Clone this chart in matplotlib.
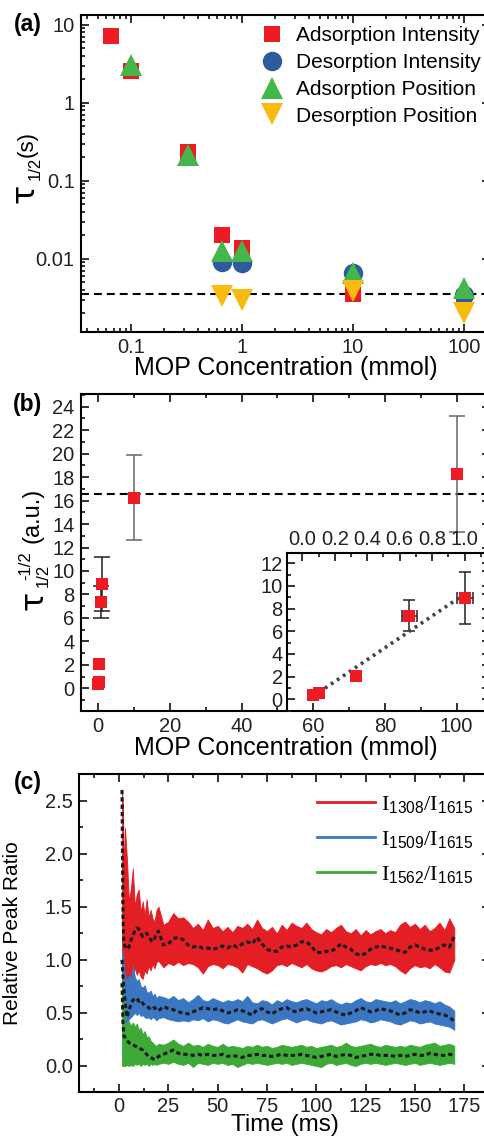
import numpy as np
import matplotlib
matplotlib.use('Agg')
import matplotlib.pyplot as plt
from matplotlib.lines import Line2D
from matplotlib.ticker import MultipleLocator, LogLocator, NullFormatter

plt.rcParams['font.family'] = ['Liberation Sans', 'DejaVu Sans']
plt.rcParams['mathtext.fontset'] = 'custom'
plt.rcParams['mathtext.rm'] = 'Liberation Serif'
plt.rcParams['mathtext.sf'] = 'Liberation Sans'
plt.rcParams['mathtext.it'] = 'Liberation Serif:italic'

RED = '#ED1C24'
BLUE = '#2D5B9E'
GREEN = '#45B649'
YELLOW = '#F9BA12'

############## (a) half-life vs concentration ##############
conc_ads_int = [0.066, 0.1, 0.33, 0.66, 1, 10, 100]
tau_ads_int = [7.2, 2.6, 0.235, 0.020, 0.0139, 0.00358, 0.0031]
conc_des_int = [0.66, 1, 10, 100]
tau_des_int = [0.0092, 0.0087, 0.0065, 0.0034]
conc_ads_pos = [0.1, 0.33, 0.66, 1, 10, 100]
tau_ads_pos = [3.06, 0.213, 0.0126, 0.0126, 0.0066, 0.0042]
conc_des_pos = [0.66, 1, 10, 100]
tau_des_pos = [0.0033, 0.0030, 0.0039, 0.0020]
tau_limit = 0.0035

############## (b) inverse square root ##############
conc_b = [0.066, 0.1, 0.33, 0.66, 1, 10, 100]
rate_b = [0.38, 0.58, 2.06, 7.37, 8.92, 16.24, 18.27]
rate_err = [0, 0, 0, 1.38, 2.29, 3.6, 4.93]
conc_err = [0, 0, 0, 0.045, 0.05, 0, 0]
rate_limit = 16.6
fit_slope = 9.66
fit_intercept = -0.37

############## (c) relative peak ratios ##############
t_ms = np.concatenate([[1.5, 2, 2.5, 3, 4, 5, 6, 7, 8, 9, 10, 11, 12, 13, 14, 15, 16, 17, 18, 19, 20],
                       np.arange(22.5, 170.1, 2.5)])

r1308_mid = [2.60, 1.40, 1.15, 1.13, 1.10, 1.12, 1.18, 1.23, 1.27, 1.30, 1.29, 1.25, 1.22, 1.24, 1.25, 1.22, 1.19, 1.17, 1.20, 1.25, 1.27,
             1.14, 1.15, 1.20, 1.21, 1.19, 1.14, 1.12, 1.13, 1.11, 1.11,
             1.10, 1.11, 1.13, 1.11, 1.14, 1.12, 1.15, 1.17, 1.15, 1.21,
             1.15, 1.10, 1.08, 1.08, 1.12, 1.13, 1.12, 1.14, 1.17, 1.17,
             1.13, 1.07, 1.07, 1.08, 1.08, 1.11, 1.15, 1.12, 1.10, 1.06,
             1.04, 1.06, 1.10, 1.12, 1.13, 1.12, 1.11, 1.10, 1.08, 1.07,
             1.12, 1.14, 1.12, 1.10, 1.09, 1.09, 1.12, 1.14, 1.12, 1.22]
r1308_hi = [2.60, 2.45, 1.80, 2.24, 1.95, 1.55, 1.67, 1.86, 1.50, 1.62, 1.66, 1.45, 1.55, 1.42, 1.57, 1.40, 1.47, 1.39, 1.36, 1.47, 1.50,
            1.33, 1.36, 1.44, 1.39, 1.40, 1.36, 1.30, 1.34, 1.28, 1.38,
            1.30, 1.32, 1.27, 1.31, 1.26, 1.32, 1.30, 1.34, 1.29, 1.38,
            1.30, 1.27, 1.31, 1.25, 1.33, 1.28, 1.35, 1.32, 1.30, 1.35,
            1.29, 1.26, 1.24, 1.29, 1.26, 1.30, 1.33, 1.27, 1.25, 1.29,
            1.23, 1.28, 1.24, 1.27, 1.29, 1.25, 1.28, 1.26, 1.33, 1.36,
            1.31, 1.34, 1.29, 1.33, 1.27, 1.30, 1.35, 1.28, 1.39, 1.30]
r1308_lo = [0.95, 0.80, 0.90, 0.85, 0.78, 0.72, 0.80, 0.88, 0.92, 0.86, 0.90, 0.84, 0.82, 0.90, 0.87, 0.94, 0.90, 0.96, 0.92, 0.98, 0.99,
            0.93, 0.97, 0.95, 0.98, 0.95, 0.97, 0.96, 0.93, 0.87, 0.94,
            0.96, 0.95, 0.92, 0.96, 0.95, 0.93, 0.88, 0.96, 0.94, 0.92,
            0.89, 0.87, 0.90, 0.95, 0.96, 0.94, 0.97, 0.95, 0.93, 0.96,
            0.92, 0.90, 0.89, 0.91, 0.94, 0.95, 0.93, 0.96, 0.94, 0.92,
            0.90, 0.94, 0.96, 0.95, 0.97, 0.95, 0.96, 0.94, 0.90, 0.87,
            0.92, 0.95, 0.93, 0.94, 0.92, 0.96, 0.93, 0.89, 0.88, 1.00]

r1509_mid = [1.00, 0.85, 0.72, 0.62, 0.46, 0.52, 0.58, 0.62, 0.63, 0.64, 0.61, 0.62, 0.59, 0.57, 0.56, 0.55, 0.53, 0.54, 0.55, 0.53, 0.52,
             0.56, 0.54, 0.53, 0.51, 0.50, 0.49, 0.51, 0.53, 0.55, 0.54,
             0.53, 0.54, 0.52, 0.50, 0.51, 0.53, 0.52, 0.50, 0.48, 0.53,
             0.54, 0.51, 0.49, 0.52, 0.54, 0.55, 0.52, 0.51, 0.53, 0.54,
             0.52, 0.50, 0.51, 0.52, 0.53, 0.51, 0.49, 0.48, 0.50, 0.52,
             0.55, 0.53, 0.51, 0.52, 0.54, 0.53, 0.52, 0.50, 0.48, 0.50,
             0.53, 0.52, 0.50, 0.51, 0.52, 0.50, 0.49, 0.48, 0.46, 0.42]
r1509_hi = [1.09, 1.05, 0.92, 0.88, 0.80, 0.86, 0.82, 0.95, 0.84, 0.80, 0.82, 0.75, 0.74, 0.76, 0.70, 0.69, 0.71, 0.66, 0.68, 0.64, 0.66,
            0.65, 0.63, 0.66, 0.62, 0.64, 0.60, 0.63, 0.67, 0.62, 0.61,
            0.64, 0.62, 0.60, 0.62, 0.61, 0.63, 0.61, 0.66, 0.60, 0.59,
            0.62, 0.61, 0.58, 0.62, 0.60, 0.63, 0.61, 0.60, 0.62, 0.63,
            0.61, 0.59, 0.62, 0.61, 0.63, 0.60, 0.58, 0.60, 0.59, 0.62,
            0.64, 0.61, 0.60, 0.63, 0.62, 0.61, 0.60, 0.62, 0.59, 0.61,
            0.63, 0.62, 0.60, 0.62, 0.61, 0.59, 0.61, 0.58, 0.56, 0.52]
r1509_lo = [0.25, 0.30, 0.35, 0.38, 0.40, 0.44, 0.46, 0.48, 0.50, 0.48, 0.50, 0.47, 0.48, 0.46, 0.45, 0.46, 0.44, 0.46, 0.45, 0.43, 0.45,
            0.46, 0.44, 0.43, 0.42, 0.43, 0.42, 0.44, 0.43, 0.45, 0.42,
            0.44, 0.43, 0.41, 0.40, 0.42, 0.44, 0.42, 0.41, 0.40, 0.43,
            0.44, 0.42, 0.40, 0.42, 0.44, 0.45, 0.43, 0.41, 0.43, 0.44,
            0.42, 0.41, 0.40, 0.42, 0.43, 0.41, 0.39, 0.40, 0.41, 0.42,
            0.44, 0.43, 0.41, 0.42, 0.44, 0.43, 0.42, 0.40, 0.39, 0.41,
            0.43, 0.42, 0.40, 0.41, 0.42, 0.40, 0.39, 0.38, 0.37, 0.34]

r1562_mid = [0.78, 0.40, 0.28, 0.27, 0.24, 0.22, 0.21, 0.20, 0.19, 0.18, 0.17, 0.16, 0.15, 0.13, 0.11, 0.09, 0.08, 0.07, 0.06, 0.07, 0.09,
             0.11, 0.13, 0.15, 0.12, 0.11, 0.11, 0.10, 0.11, 0.10, 0.11,
             0.10, 0.10, 0.11, 0.09, 0.10, 0.09, 0.08, 0.10, 0.10, 0.11,
             0.10, 0.10, 0.09, 0.10, 0.11, 0.10, 0.10, 0.10, 0.11, 0.10,
             0.09, 0.08, 0.09, 0.10, 0.11, 0.09, 0.10, 0.11, 0.10, 0.08,
             0.09, 0.10, 0.11, 0.11, 0.10, 0.10, 0.10, 0.09, 0.10, 0.09,
             0.10, 0.11, 0.10, 0.10, 0.12, 0.11, 0.10, 0.10, 0.11, 0.10]
r1562_hi = [0.80, 0.72, 0.55, 0.42, 0.40, 0.42, 0.38, 0.41, 0.37, 0.40, 0.34, 0.36, 0.30, 0.33, 0.27, 0.28, 0.24, 0.22, 0.20, 0.19, 0.21,
            0.20, 0.22, 0.25, 0.21, 0.19, 0.22, 0.19, 0.20, 0.18, 0.21,
            0.19, 0.18, 0.21, 0.18, 0.19, 0.18, 0.17, 0.19, 0.18, 0.20,
            0.18, 0.19, 0.17, 0.18, 0.20, 0.19, 0.18, 0.19, 0.20, 0.18,
            0.19, 0.17, 0.18, 0.19, 0.20, 0.18, 0.19, 0.22, 0.19, 0.18,
            0.19, 0.20, 0.21, 0.19, 0.18, 0.20, 0.19, 0.18, 0.19, 0.18,
            0.20, 0.19, 0.18, 0.20, 0.21, 0.22, 0.19, 0.20, 0.21, 0.19]
r1562_lo = [0.00, 0.00, 0.00, 0.00, 0.01, 0.00, 0.01, 0.00, 0.02, 0.01, 0.02, 0.00, 0.02, 0.01, 0.02, 0.00, 0.02, 0.01, 0.02, 0.01, 0.02,
            0.03, 0.02, 0.04, 0.02, 0.01, 0.03, -0.01, 0.03, 0.02, 0.01,
            0.03, 0.02, 0.03, 0.01, 0.02, -0.01, 0.01, 0.03, 0.02, 0.03,
            0.02, 0.01, 0.02, 0.03, 0.02, 0.03, 0.01, 0.02, 0.03, 0.02,
            0.01, 0.00, -0.01, 0.02, 0.03, 0.01, 0.02, 0.03, 0.01, 0.00,
            0.02, 0.03, 0.02, 0.03, 0.02, 0.01, 0.02, 0.03, 0.02, 0.01,
            0.02, 0.03, 0.01, 0.02, 0.03, 0.02, 0.01, 0.02, 0.03, 0.02]

###############################################################################

W, H = 485, 1141
fig = plt.figure(figsize=(W / 100, H / 100), dpi=100)


def add_ax(left, top, right, bottom):  # axes box given in pixels from top-left
    return fig.add_axes([left / W, 1 - bottom / H, (right - left) / W, (bottom - top) / H])


def ptext(x, y, s, **kw):  # figure text placed in pixels from top-left
    kw.setdefault('ha', 'center')
    kw.setdefault('va', 'center')
    return fig.text(x / W, 1 - y / H, s, **kw)


def style(ax):
    for sp in ax.spines.values():
        sp.set_linewidth(1.5)
    ax.tick_params(which='both', direction='in', top=True, right=True,
                   labelsize=14.5, width=1.3, pad=4.5, colors='#222222')
    ax.tick_params(which='major', length=5.5)
    ax.tick_params(which='minor', length=3)


dash = (0, (3.8, 2.4))

#### (a)
ax_a = add_ax(81, 15, 490, 332)
ax_a.set_xscale('log')
ax_a.set_yscale('log')
style(ax_a)
ax_a.plot(conc_ads_int, tau_ads_int, 's', color=RED, ms=12, mew=0, label='Adsorption Intensity')
ax_a.plot(conc_des_int, tau_des_int, 'o', color=BLUE, ms=14, mew=0, label='Desorption Intensity')
ax_a.plot(conc_ads_pos, tau_ads_pos, '^', color=GREEN, ms=16, mew=0, label='Adsorption Position')
ax_a.plot(conc_des_pos, tau_des_pos, 'v', color=YELLOW, ms=16, mew=0, label='Desorption Position')
ax_a.axhline(tau_limit, color='k', ls=dash, lw=1.5, zorder=0)
ax_a.set_xlim(0.0355, 171.5)
ax_a.set_ylim(0.00115, 13.4)
ax_a.set_xticks([0.1, 1, 10, 100], labels=['0.1', '1', '10', '100'])
ax_a.set_yticks([0.01, 0.1, 1, 10], labels=['0.01', '0.1', '1', '10'])
ax_a.xaxis.set_minor_locator(LogLocator(subs=np.arange(2, 10)))
ax_a.yaxis.set_minor_locator(LogLocator(subs=np.arange(2, 10)))
ax_a.xaxis.set_minor_formatter(NullFormatter())
ax_a.yaxis.set_minor_formatter(NullFormatter())
ax_a.set_xlabel('MOP Concentration (mmol)', fontsize=18)
ax_a.xaxis.set_label_coords(0.5, -0.075)
ax_a.legend(loc='upper left', bbox_to_anchor=(262 / W, 1 - 26 / H), bbox_transform=fig.transFigure,
            frameon=False, fontsize=15, borderpad=0, borderaxespad=0, handlelength=1.0,
            handletextpad=0.65, labelspacing=0.38)
# y label: large tau with sans subscript
ptext(25, 193, '\u03c4', fontsize=23, rotation=90, family='DejaVu Sans')
ptext(35, 168, '1/2', fontsize=12, rotation=90)
ptext(27, 144, '(s)', fontsize=16, rotation=90)

#### (b)
ax_b = add_ax(81, 394, 490, 711)
style(ax_b)
small = [i for i in range(len(conc_b)) if rate_err[i] > 0 and conc_b[i] < 5]
large = [i for i in range(len(conc_b)) if rate_err[i] > 0 and conc_b[i] >= 5]
ax_b.errorbar([conc_b[i] for i in large], [rate_b[i] for i in large], yerr=[rate_err[i] for i in large],
              fmt='none', ecolor='#666666', elinewidth=1.1, capsize=6, capthick=1.1)
ax_b.errorbar([conc_b[i] for i in small], [rate_b[i] for i in small], yerr=[rate_err[i] for i in small],
              fmt='none', ecolor='#222222', elinewidth=1.1, capsize=6, capthick=1.1)
ax_b.plot(conc_b, rate_b, 's', color=RED, ms=8, mew=0, zorder=3)
ax_b.axhline(rate_limit, color='k', ls=dash, lw=1.5, zorder=0)
ax_b.set_xlim(-4.8, 109.3)
ax_b.set_ylim(-1.93, 25.08)
ax_b.xaxis.set_major_locator(MultipleLocator(20))
ax_b.xaxis.set_minor_locator(MultipleLocator(10))
ax_b.yaxis.set_major_locator(MultipleLocator(2))
ax_b.yaxis.set_minor_locator(MultipleLocator(1))
ax_b.set_xlabel('MOP Concentration (mmol)', fontsize=18)
ax_b.xaxis.set_label_coords(0.5, -0.078)
ptext(34, 600, '\u03c4', fontsize=23, rotation=90, family='DejaVu Sans')
ptext(43, 575, '1/2', fontsize=12, rotation=90)
ptext(26, 566, '-1/2', fontsize=12, rotation=90)
ptext(33, 515, '(a.u.)', fontsize=17, rotation=90)

# inset: low concentration region
ax_in = add_ax(287, 553, 490, 711)
ax_in.set_facecolor('none')
style(ax_in)
ax_in.spines['bottom'].set_visible(False)
ax_in.tick_params(which='both', bottom=False, labelbottom=False, top=True, labeltop=True, pad=3)
ax_in.errorbar([conc_b[i] for i in small], [rate_b[i] for i in small],
               xerr=[conc_err[i] for i in small], yerr=[rate_err[i] for i in small],
               fmt='none', ecolor='#222222', elinewidth=1.1, capsize=4, capthick=1.1)
fit_x = np.array([0.066, 1.0])
ax_in.plot(fit_x, fit_slope * fit_x + fit_intercept, color='#444444', ls=(0, (0.8, 1.2)), lw=2.6, zorder=2)
ax_in.plot(conc_b[:5], rate_b[:5], 's', color=RED, ms=8, mew=0, zorder=3)
ax_in.set_xlim(-0.094, 1.156)
ax_in.set_ylim(-1.03, 12.91)
ax_in.xaxis.set_major_locator(MultipleLocator(0.2))
ax_in.xaxis.set_minor_locator(MultipleLocator(0.1))
ax_in.yaxis.set_major_locator(MultipleLocator(2))
ax_in.yaxis.set_minor_locator(MultipleLocator(1))
ax_in.xaxis.set_major_formatter(lambda v, p: f'{v:.1f}')

#### (c)
ax_c = add_ax(79, 774, 490, 1092)
style(ax_c)
series = [(r1308_lo, r1308_hi, r1308_mid, '#E31E24', r'$\mathrm{I}_{\mathsf{1308}}/\mathrm{I}_{\mathsf{1615}}$'),
          (r1509_lo, r1509_hi, r1509_mid, '#3A76C2', r'$\mathrm{I}_{\mathsf{1509}}/\mathrm{I}_{\mathsf{1615}}$'),
          (r1562_lo, r1562_hi, r1562_mid, '#3DAA38', r'$\mathrm{I}_{\mathsf{1562}}/\mathrm{I}_{\mathsf{1615}}$')]
handles = []
for k, (lo, hi, mid, col, lab) in enumerate(series):
    ax_c.fill_between(t_ms, lo, hi, color=col, lw=0.6, zorder=2 + k)
    handles.append(Line2D([], [], color=col, lw=2, label=lab))
for k, (lo, hi, mid, col, lab) in enumerate(series):
    ax_c.plot(t_ms, mid, color='#1a1a1a', lw=2.2, ls=(0, (1.4, 1.0)), zorder=6)
ax_c.set_xlim(-20.3, 188.1)
ax_c.set_ylim(-0.245, 2.75)
ax_c.xaxis.set_major_locator(MultipleLocator(25))
ax_c.xaxis.set_minor_locator(MultipleLocator(12.5))
ax_c.yaxis.set_major_locator(MultipleLocator(0.5))
ax_c.yaxis.set_minor_locator(MultipleLocator(0.25))
ax_c.yaxis.set_major_formatter(lambda v, p: f'{v:.1f}')
ax_c.tick_params(axis='x', pad=3.5)
ax_c.set_xlabel('Time (ms)', fontsize=17.5)
ax_c.set_ylabel('Relative Peak Ratio', fontsize=15)
ax_c.xaxis.set_label_coords(0.5, -0.068)
ax_c.yaxis.set_label_coords(-0.139, 0.5)
ax_c.legend(handles=handles, loc='upper left', bbox_to_anchor=(317 / W, 1 - 794 / H),
            bbox_transform=fig.transFigure, frameon=False, fontsize=16, borderpad=0,
            borderaxespad=0, handlelength=2.6, handletextpad=0.28, labelspacing=0.62)

for lab, ypx in [('(a)', 25), ('(b)', 405), ('(c)', 783)]:
    ptext(28, ypx, lab, fontsize=16.5, fontweight='bold')

fig.savefig('out.png', dpi=100)
